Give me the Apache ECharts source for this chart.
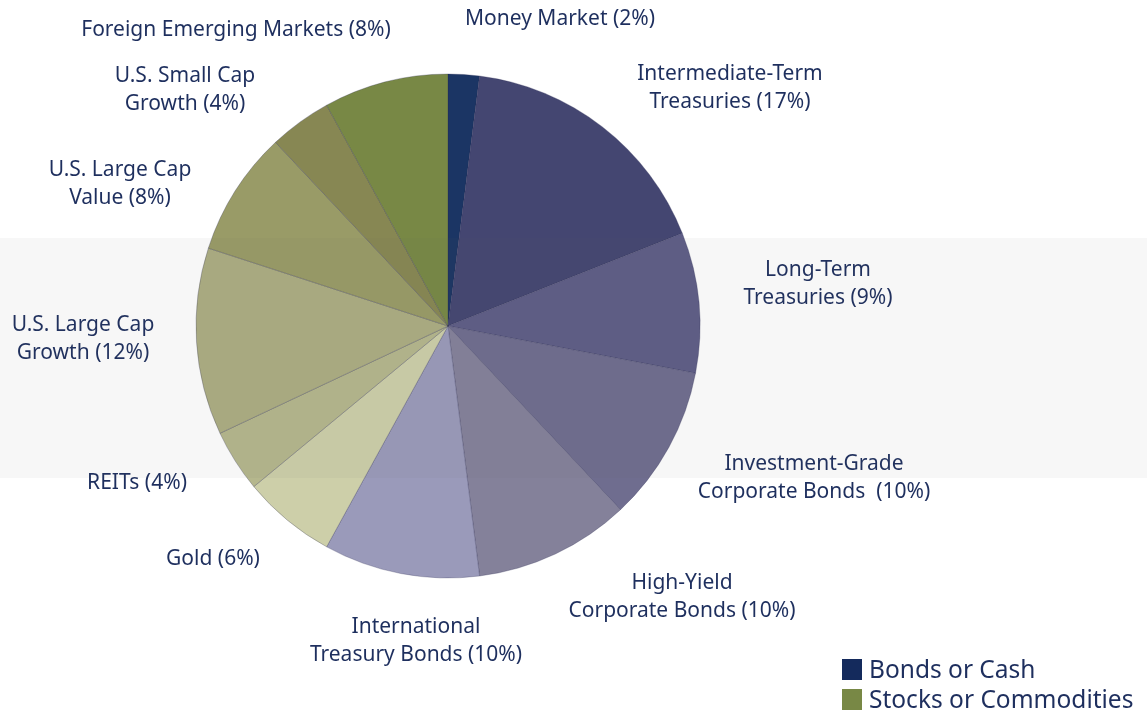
<!DOCTYPE html>
<html>
<head>
<meta charset="utf-8">
<script src="https://cdn.jsdelivr.net/npm/echarts@6/dist/echarts.min.js"></script>
<style>
  html, body { margin: 0; padding: 0; background: #fff; }
  #chart { width: 1147px; height: 712px; }
</style>
</head>
<body>
<div id="chart"></div>
<script>
  // slices, clockwise from 12 o'clock
  const names = [
    'Money Market (2%)',
    'Intermediate-Term\nTreasuries (17%)',
    'Long-Term\nTreasuries (9%)',
    'Investment-Grade\nCorporate Bonds  (10%)',
    'High-Yield\nCorporate Bonds (10%)',
    'International\nTreasury Bonds (10%)',
    'Gold (6%)',
    'REITs (4%)',
    'U.S. Large Cap\nGrowth (12%)',
    'U.S. Large Cap\nValue (8%)',
    'U.S. Small Cap\nGrowth (4%)',
    'Foreign Emerging Markets (8%)'
  ];
  const weights = [2, 17, 9, 10, 10, 10, 6, 4, 12, 8, 4, 8];
  const sliceColors = [
    '#1b3564', '#444671', '#5e5d86', '#6f6d8f', '#84819a', '#9a9aba',
    '#cdcfa9', '#b5b78d', '#acad82', '#999b67', '#878753', '#788845'
  ];
  const legendNames = ['Bonds or Cash', 'Stocks or Commodities'];
  const legendColors = ['#142a5c', '#788845'];

  // label anchor points (centre of text block)
  const labelPos = [
    [560, 19], [730, 88], [818, 284], [814, 478], [682, 597], [416, 641],
    [213, 559], [137, 483], [83, 339], [120, 184], [185, 90], [236, 30]
  ];

  const textColor = '#1e2f5e';
  const font = '"Noto Sans", sans-serif';

  const chart = echarts.init(document.getElementById('chart'));
  const option = {
    backgroundColor: '#ffffff',
    animation: false,
    series: [{
      type: 'pie',
      center: [448, 326],
      radius: 252,
      startAngle: 90,
      clockwise: true,
      silent: true,
      data: names.map((n, i) => ({
        name: n,
        value: weights[i],
        itemStyle: { color: sliceColors[i] }
      })),
      itemStyle: { borderColor: 'rgba(40,40,80,0.35)', borderWidth: 0.8 },
      label: {
        show: true,
        position: 'outside',
        formatter: '{b}',
        color: textColor,
        fontFamily: font,
        fontSize: 21,
        lineHeight: 28,
        align: 'center',
        overflow: 'none',
        edgeDistance: 0
      },
      labelLine: { show: false },
      labelLayout: function (p) {
        return {
          x: labelPos[p.dataIndex][0],
          y: labelPos[p.dataIndex][1],
          align: 'center',
          verticalAlign: 'middle'
        };
      }
    }],
    graphic: [
      {
        type: 'rect',
        z: 100,
        silent: true,
        shape: { x: 0, y: 238, width: 1147, height: 240 },
        style: { fill: 'rgba(90,90,90,0.05)' }
      },
      ...legendNames.flatMap((n, i) => [
        {
          type: 'rect',
          z: 101,
          shape: { x: 842, y: 659 + i * 30, width: 20, height: 21 },
          style: { fill: legendColors[i] }
        },
        {
          type: 'text',
          z: 101,
          x: 869,
          y: 671 + i * 30,
          style: {
            text: n,
            fill: textColor,
            font: '24.5px ' + font,
            verticalAlign: 'middle'
          }
        }
      ])
    ]
  };
  chart.setOption(option);
</script>
</body>
</html>
